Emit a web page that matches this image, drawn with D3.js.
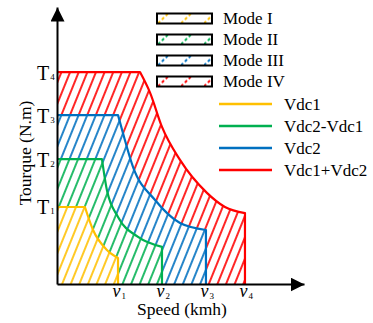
<!DOCTYPE html>
<html lang="en">
  <head>
    <meta charset="UTF-8" />
    <title>Torque speed modes</title>
    <script src="https://cdn.jsdelivr.net/npm/d3@7"></script>
    <style>
      body { margin: 0; background: #fff; }
      svg { display: block; }
      text { font-family: "Times New Roman", "Liberation Serif", serif; fill: #000; }
    </style>
  </head>
  <body>
    <svg width="373" height="323"></svg>
    <script>
      // values (arbitrary units, 0..100 on both axes)
      const modeNames = ["Mode I", "Mode II", "Mode III", "Mode IV"];
      const lineNames = ["Vdc1", "Vdc2-Vdc1", "Vdc2", "Vdc1+Vdc2"];
      const speedTicks = [24.7, 42.5, 60.3, 76.1];
      const speedLabels = ["1", "2", "3", "4"];
      const torqueTicks = [27.8, 45.1, 61.0, 76.5];
      const torqueLabels = ["1", "2", "3", "4"];

      // boundary of each mode: corner point first, then the falling curve
      const speed1 = [11.3, 14.6, 20.2, 24.7];
      const torque1 = [27.8, 19.5, 12.3, 9.4];
      const speed2 = [18.2, 20.2, 24.7, 32.8, 42.5];
      const torque2 = [45.1, 33.9, 24.2, 17.0, 13.4];
      const speed3 = [24.7, 26.7, 30.8, 39.7, 49.8, 60.3];
      const torque3 = [61.0, 54.5, 42.2, 30.3, 22.0, 19.5];
      const speed4 = [33.6, 37.7, 42.5, 49.8, 60.7, 68.0, 76.1];
      const torque4 = [76.5, 69.0, 56.7, 44.8, 32.9, 27.8, 25.6];

      const colors = ["#FFC000", "#00B050", "#0070C0", "#FF0000"];
      const curves = [
        d3.zip(speed1, torque1),
        d3.zip(speed2, torque2),
        d3.zip(speed3, torque3),
        d3.zip(speed4, torque4)
      ];

      const svg = d3.select("svg");
      const x = d3.scaleLinear().domain([0, 100]).range([57, 304]);
      const y = d3.scaleLinear().domain([0, 100]).range([284, 7]);

      const defs = svg.append("defs");
      // hatch patterns for the areas
      colors.forEach((c, i) => {
        const p = defs.append("pattern")
          .attr("id", "hatch" + i)
          .attr("patternUnits", "userSpaceOnUse")
          .attr("width", 8).attr("height", 8)
          .attr("patternTransform", "rotate(22)");
        p.append("rect").attr("width", 8).attr("height", 8).attr("fill", "#fff");
        p.append("line").attr("x1", 4).attr("x2", 4).attr("y1", -1).attr("y2", 9)
          .attr("stroke", c).attr("stroke-width", 1.7);
      });
      // dotted hatch for the legend boxes (one tile = one box height)
      colors.forEach((c, i) => {
        const p = defs.append("pattern")
          .attr("id", "lhatch" + i)
          .attr("patternUnits", "userSpaceOnUse")
          .attr("x", 158).attr("y", 13.5)
          .attr("width", 23).attr("height", 10);
        p.append("rect").attr("width", 23).attr("height", 10).attr("fill", "#fff");
        p.append("line").attr("x1", 0).attr("y1", 10).attr("x2", 10).attr("y2", 0)
          .attr("stroke", c).attr("stroke-width", 2).attr("stroke-dasharray", "3 2.5");
      });
      defs.append("marker")
        .attr("id", "arrow")
        .attr("markerUnits", "userSpaceOnUse")
        .attr("viewBox", "0 0 14 14")
        .attr("markerWidth", 14).attr("markerHeight", 14)
        .attr("refX", 14).attr("refY", 7)
        .attr("orient", "auto")
        .append("path").attr("d", "M0,0L14,7L0,14Z").attr("fill", "#000");

      const curve = d3.line().x(d => x(d[0])).y(d => y(d[1])).curve(d3.curveMonotoneX);
      function outline(pts) {
        const last = pts[pts.length - 1];
        return "M" + x(0) + "," + y(pts[0][1]) +
          curve(pts).replace(/^M/, "L") +
          "L" + x(last[0]) + "," + y(0);
      }

      // areas, outer mode first
      const areas = svg.append("g");
      for (let i = 3; i >= 0; i--) {
        areas.append("path")
          .attr("d", "M" + x(0) + "," + y(0) + outline(curves[i]).replace(/^M/, "L") + "Z")
          .attr("fill", "url(#hatch" + i + ")");
      }
      for (let i = 3; i >= 0; i--) {
        areas.append("path")
          .attr("d", outline(curves[i]))
          .attr("fill", "none")
          .attr("stroke", colors[i])
          .attr("stroke-width", 2.2)
          .attr("stroke-linejoin", "round");
      }

      // axes
      const xAxis = svg.append("g")
        .attr("transform", "translate(0," + y(0) + ")")
        .call(d3.axisBottom(x).tickValues(speedTicks).tickSize(0).tickSizeOuter(0));
      const yAxis = svg.append("g")
        .attr("transform", "translate(" + x(0) + ",0)")
        .call(d3.axisLeft(y).tickValues(torqueTicks).tickSize(0).tickSizeOuter(0));
      [xAxis, yAxis].forEach(g => {
        g.select(".domain").attr("stroke-width", 2).attr("marker-end", "url(#arrow)");
        g.selectAll(".tick text").text(null);
      });

      xAxis.selectAll(".tick text")
        .attr("y", 13).attr("dy", 0).attr("x", -6)
        .attr("text-anchor", "start")
        .each(function (d, i) {
          const t = d3.select(this);
          t.append("tspan").attr("font-size", 18).attr("font-style", "italic").text("\u03bd");
          t.append("tspan").attr("font-size", 9).attr("dx", 1).attr("dy", 2).text(speedLabels[i]);
        });
      yAxis.selectAll(".tick text")
        .attr("x", -20).attr("dy", 7)
        .attr("text-anchor", "start")
        .each(function (d, i) {
          const t = d3.select(this);
          t.append("tspan").attr("font-size", 20).text("T");
          t.append("tspan").attr("font-size", 9).attr("dx", 1).text(torqueLabels[i]);
        });

      svg.append("text")
        .attr("x", 182).attr("y", 315)
        .attr("text-anchor", "middle")
        .attr("font-size", 17.5)
        .text("Speed (kmh)");
      svg.append("text")
        .attr("transform", "translate(31,153) rotate(-90)")
        .attr("text-anchor", "middle")
        .attr("font-size", 17.5)
        .text("Tourque (N.m)");

      // legend: modes
      const modeLeg = svg.append("g").selectAll("g").data(modeNames).join("g")
        .attr("transform", (d, i) => "translate(0," + (i * 21) + ")");
      modeLeg.append("rect")
        .attr("x", 157).attr("y", 13.5).attr("width", 55).attr("height", 10)
        .attr("fill", (d, i) => "url(#lhatch" + i + ")")
        .attr("stroke", "#000").attr("stroke-width", 2);
      modeLeg.append("text")
        .attr("x", 223).attr("y", 23.5)
        .attr("font-size", 17)
        .text(d => d);

      // legend: voltage lines
      const lineLeg = svg.append("g").selectAll("g").data(lineNames).join("g")
        .attr("transform", (d, i) => "translate(0," + (104 + i * 22) + ")");
      lineLeg.append("line")
        .attr("x1", 219).attr("x2", 272)
        .attr("stroke", (d, i) => colors[i]).attr("stroke-width", 2.5);
      lineLeg.append("text")
        .attr("x", 284).attr("y", 5.5)
        .attr("font-size", 17)
        .text(d => d);
    </script>
  </body>
</html>
